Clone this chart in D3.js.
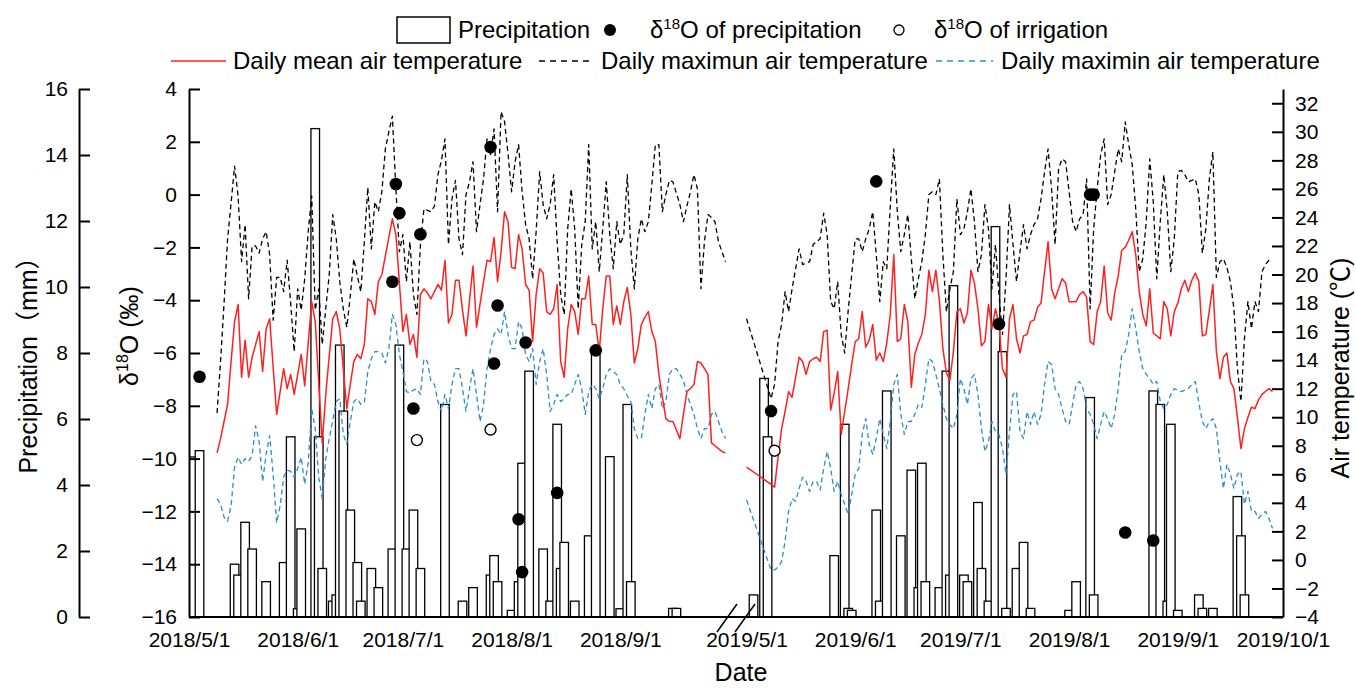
<!DOCTYPE html>
<html>
<head>
<meta charset="utf-8">
<script src="https://cdn.jsdelivr.net/npm/d3@7"></script>
<style>
  body { margin: 0; background: #fff; }
  svg { display: block; }
  text { font-family: "Liberation Sans", Arial, "Noto Sans CJK SC", sans-serif; fill: #000; }
</style>
</head>
<body>
<svg id="chart" width="1356" height="688"></svg>
<script>
// ---------------- data ----------------
const xTickLabels2018 = ["2018/5/1", "2018/6/1", "2018/7/1", "2018/8/1", "2018/9/1"];
const xTickLabels2019 = ["2019/5/1", "2019/6/1", "2019/7/1", "2019/8/1", "2019/9/1", "2019/10/1"];
const precipTicks = [0, 2, 4, 6, 8, 10, 12, 14, 16];
const isotopeTicks = [-16, -14, -12, -10, -8, -6, -4, -2, 0, 2, 4];
const tempTicks = [-4, -2, 0, 2, 4, 6, 8, 10, 12, 14, 16, 18, 20, 22, 24, 26, 28, 30, 32];

// daily precipitation (mm)
const precipDates2018 = ["2018/5/2","2018/5/4","2018/5/14","2018/5/15","2018/5/17","2018/5/19","2018/5/23","2018/5/28","2018/5/30",
  "2018/6/1","2018/6/2","2018/6/6","2018/6/7","2018/6/8","2018/6/11","2018/6/12","2018/6/13","2018/6/14","2018/6/16","2018/6/18","2018/6/19","2018/6/22","2018/6/24","2018/6/28","2018/6/30",
  "2018/7/2","2018/7/4","2018/7/6","2018/7/13","2018/7/18","2018/7/21","2018/7/26","2018/7/27","2018/7/28",
  "2018/8/1","2018/8/3","2018/8/4","2018/8/6","2018/8/10","2018/8/12","2018/8/14","2018/8/15","2018/8/16","2018/8/19","2018/8/23","2018/8/25","2018/8/29",
  "2018/9/1","2018/9/3","2018/9/4","2018/9/16","2018/9/17"];
const precipValues2018 = [4.85,5.04,1.6,1.27,2.87,2.06,1.07,1.65,5.46,
  0.25,2.67,14.8,5.46,1.47,0.48,0.67,8.24,6.24,3.24,1.65,0.48,1.47,0.89,2.06,8.24,
  2.06,3.24,1.47,6.44,0.48,0.89,1.27,1.86,1.07,
  0.2,1.07,4.66,7.45,2.06,0.48,5.84,1.47,2.26,0.48,2.46,8.04,4.86,
  0.25,6.44,1.07,0.26,0.26];
const precipDates2019 = ["2019/5/3","2019/5/6","2019/5/7","2019/5/26","2019/5/29","2019/5/30","2019/5/31",
  "2019/6/7","2019/6/8","2019/6/10","2019/6/14","2019/6/17","2019/6/19","2019/6/20","2019/6/21","2019/6/25","2019/6/27","2019/6/28","2019/6/29",
  "2019/7/2","2019/7/3","2019/7/6","2019/7/7","2019/7/9","2019/7/11","2019/7/13","2019/7/14","2019/7/17","2019/7/19","2019/7/21",
  "2019/8/1","2019/8/3","2019/8/7","2019/8/8","2019/8/25","2019/8/27","2019/8/29","2019/8/30",
  "2019/9/1","2019/9/7","2019/9/8","2019/9/11","2019/9/18","2019/9/19","2019/9/20"];
const precipValues2019 = [0.67,7.23,5.46,1.86,5.84,0.26,0.2,
  3.24,0.48,6.85,2.46,4.45,0.89,4.66,1.07,0.89,7.45,1.27,10.04,
  1.27,1.07,3.47,1.47,0.48,11.83,8.04,0.26,1.47,2.26,0.26,
  0.2,1.07,6.65,0.67,6.85,6.44,0.48,5.84,
  0.2,0.67,0.26,0.26,3.65,2.46,0.67];

// δ18O of precipitation and irrigation water (‰)
const isoPrecipDates = ["2018/5/4","2018/6/28","2018/6/29","2018/6/30","2018/7/4","2018/7/6","2018/7/26","2018/7/27","2018/7/28",
  "2018/8/3","2018/8/4","2018/8/5","2018/8/14","2018/8/25",
  "2019/5/8","2019/6/7","2019/7/12","2019/8/7","2019/8/8","2019/8/17","2019/8/25"];
const isoPrecipValues = [-6.9,-3.3,0.4,-0.7,-8.1,-1.5,1.8,-6.4,-4.2,
  -12.3,-14.3,-5.6,-11.3,-5.9,
  -8.2,0.5,-4.9,0.0,0.0,-12.8,-13.1];
const isoIrrigDates = ["2018/7/5","2018/7/26","2019/5/9"];
const isoIrrigValues = [-9.3,-8.9,-9.7];

// daily air temperature (°C); 2018 series start on 5/9, 2019 series on 5/1 (5/2–5/7 missing)
const tempStart2018 = "2018/5/9";
const meanT2018 = [7.5,8.5,9.7,10.9,13.9,16.7,17.9,12.8,15.4,12.8,
  14.2,15.1,16.0,13.2,16.2,16.9,13.5,10.2,11.8,13.4,
  12.0,13.0,11.6,13.0,14.4,12.2,15.2,18.1,16.7,12.4,
  8.2,11.6,14.3,16.9,17.4,16.2,13.4,10.6,12.3,13.9,
  14.4,14.1,15.1,18.3,18.1,17.2,19.5,20.0,21.3,22.6,
  23.9,22.8,19.4,16.0,17.2,15.1,15.8,14.2,18.6,19.0,
  18.7,18.3,18.8,19.3,18.9,21.0,16.6,17.2,19.6,19.6,
  17.5,15.7,18.2,20.6,16.3,17.9,19.5,21.0,20.9,22.6,
  19.5,21.6,24.4,23.7,20.5,20.4,22.8,21.8,19.3,18.9,
  15.3,18.6,20.4,20.1,17.4,17.2,17.6,19.3,13.9,12.8,
  16.2,17.9,17.4,15.8,18.3,18.3,19.9,16.5,16.5,14.6,
  17.6,19.9,19.9,16.5,17.8,16.5,18.1,19.1,17.2,13.8,
  14.8,16.5,17.0,17.4,16.0,15.3,13.0,11.4,9.9,9.7,
  9.7,9.1,8.5,10.2,11.8,12.0,12.3,13.9,13.8,13.4,
  13.0,8.2,8.0,7.8,7.6,7.5];
const maxT2018 = [10.3,13.9,18.0,22.5,25.0,27.6,25.5,20.9,23.5,18.3,
  22.0,22.0,21.5,22.5,23.0,21.4,16.8,19.8,19.8,18.8,
  21.0,18.0,14.6,19.0,17.5,19.7,23.0,25.5,17.5,19.0,
  15.1,17.6,20.0,24.2,22.5,19.5,17.6,16.3,18.5,21.1,
  19.9,18.8,22.3,26.1,21.8,25.1,24.4,25.8,28.8,30.0,
  31.1,26.0,21.6,22.8,19.5,22.3,18.6,17.2,22.1,24.6,
  24.5,24.4,24.8,27.0,28.0,29.5,22.1,25.3,26.6,22.5,
  21.4,25.6,26.5,27.9,23.0,24.9,26.7,29.5,28.4,30.2,
  24.4,31.4,30.7,28.4,25.8,27.9,29.1,25.8,23.5,22.5,
  19.7,23.0,27.2,24.9,23.9,24.9,27.0,22.3,18.6,17.2,
  23.2,26.0,23.2,17.6,22.1,23.7,29.1,21.8,23.7,20.2,
  23.2,26.5,22.8,20.4,23.7,22.1,22.8,27.0,21.8,19.0,
  22.5,23.9,23.0,23.7,26.3,29.1,29.1,24.4,25.6,26.6,
  26.5,25.7,24.9,23.7,24.8,25.8,27.0,26.0,19.0,22.3,
  24.2,24.0,23.7,22.3,21.6,20.9];
const minT2018 = [4.3,3.9,3.0,2.7,3.8,6.5,7.2,6.7,7.1,6.9,
  7.3,9.4,8.3,5.5,7.4,8.7,6.0,2.6,3.8,5.8,
  6.3,6.2,5.8,6.4,7.2,5.3,6.8,10.6,9.2,5.8,
  4.3,7.1,8.5,9.8,11.1,11.3,8.8,8.1,9.7,11.1,
  11.3,10.9,11.0,13.2,14.1,14.6,14.6,14.5,13.8,14.8,
  17.2,16.5,14.4,13.2,11.8,11.7,11.9,12.0,11.6,14.1,
  13.9,12.5,12.3,11.1,10.4,11.6,10.6,12.3,13.4,13.4,
  12.0,10.4,12.0,13.4,11.6,9.7,10.9,13.4,14.8,15.8,
  16.2,15.8,17.4,15.8,14.8,14.8,16.7,16.2,14.4,13.9,
  14.8,12.3,13.9,14.8,13.0,10.4,10.9,11.6,11.1,11.3,
  11.6,11.6,12.3,13.0,12.0,10.2,11.8,12.3,12.0,11.3,
  12.0,13.0,13.4,13.2,13.0,12.3,12.0,11.5,11.1,9.2,
  8.5,8.5,10.2,11.6,10.6,12.0,12.3,10.6,11.1,13.0,
  13.4,13.4,13.0,12.6,11.6,10.9,10.2,9.2,8.5,9.2,
  9.2,10.2,10.4,9.7,9.0,8.5];

const tempStart2019 = "2019/5/1";
const meanT2019 = [6.5,null,null,null,null,null,null,
  5.3,5.1,7.2,9.2,10.4,11.8,11.4,12.8,14.2,13.9,
  13.0,13.9,14.1,14.2,13.9,16.0,16.1,10.5,11.7,13.2,
  8.8,10.4,12.0,13.7,15.3,15.5,17.4,14.9,15.4,16.5,
  14.0,14.5,13.9,15.2,17.2,21.4,15.3,15.5,17.9,16.7,
  12.1,14.4,15.2,15.8,17.2,20.3,18.8,20.3,18.2,14.8,
  13.1,12.6,14.6,17.4,17.6,16.6,17.3,20.3,19.4,17.6,
  15.0,15.3,17.9,16.2,17.6,16.5,13.4,12.8,16.9,17.9,
  15.5,14.5,15.7,15.8,16.7,16.8,17.7,18.0,20.2,22.3,
  19.0,18.3,19.0,19.7,19.4,18.1,18.1,18.1,18.6,18.8,
  18.4,15.3,15.1,17.4,18.1,20.6,17.3,16.8,18.7,19.9,
  21.7,21.9,22.4,23.0,21.4,18.8,17.2,16.4,19.0,15.9,
  15.7,15.5,18.1,17.6,15.7,17.4,18.0,19.0,19.6,18.8,
  19.6,20.1,19.5,15.7,15.8,17.5,19.3,14.6,12.7,14.2,
  14.5,12.5,12.0,10.0,7.8,9.2,10.0,10.7,10.6,11.2,
  11.6,11.8,12.0,11.8];
const maxT2019 = [16.9,null,null,null,null,null,null,
  11.3,12.3,15.3,16.5,18.8,17.4,19.0,20.4,21.8,20.7,
  20.8,20.9,22.1,22.3,22.5,24.3,22.8,18.1,17.6,19.5,
  15.8,14.5,17.5,20.0,22.5,22.5,21.6,22.5,23.2,24.4,
  21.4,18.1,20.9,20.4,24.8,28.8,24.4,21.6,22.8,24.2,
  21.1,18.3,19.7,20.9,22.8,25.6,25.8,25.6,26.7,21.4,
  17.4,19.0,20.2,25.3,22.8,23.2,24.4,26.0,23.7,20.2,
  21.4,24.9,23.2,19.0,22.1,18.6,15.8,19.7,24.9,22.1,
  19.5,21.6,23.5,21.8,22.8,23.5,23.9,25.3,27.2,28.8,
  26.0,22.1,27.4,28.1,27.9,25.8,23.7,23.0,23.9,24.2,
  26.7,17.6,23.2,26.0,28.4,29.5,24.9,25.6,27.2,28.8,
  27.9,30.7,29.1,27.7,24.6,20.2,21.1,23.7,28.1,25.1,
  19.7,23.7,27.0,24.4,20.2,22.5,27.2,27.3,27.0,26.5,
  26.6,26.7,25.6,21.5,23.2,26.7,28.6,19.8,20.9,21.1,
  20.5,19.5,17.6,13.4,11.1,15.5,18.1,16.2,18.1,17.4,
  20.2,20.7,21.0,21.1];
const minT2019 = [4.2,null,null,null,null,null,null,
  -0.7,-0.7,-0.5,-0.1,1.3,3.4,4.3,4.1,5.0,5.8,
  5.5,4.8,5.5,5.5,4.9,6.4,7.6,6.4,4.8,5.5,
  4.6,3.9,3.2,4.6,6.0,6.4,8.8,9.9,8.1,7.4,
  8.5,9.9,8.8,7.8,9.7,12.3,13.0,10.2,8.8,9.7,
  9.7,10.2,10.9,10.7,12.3,14.1,13.9,13.0,12.0,10.9,
  9.9,9.5,9.2,10.2,12.7,12.0,10.9,12.7,13.0,11.6,
  9.2,7.6,8.3,9.7,9.0,8.8,7.8,6.0,9.0,11.6,
  11.8,9.0,8.5,10.4,9.5,10.4,9.5,10.2,12.3,13.9,
  13.7,12.0,11.6,10.6,9.7,9.5,10.9,12.3,12.5,12.0,
  10.6,10.2,9.5,8.5,9.5,10.4,9.9,9.2,10.2,12.0,
  14.4,14.6,15.8,17.6,16.2,14.6,13.4,13.0,12.7,12.3,
  12.5,11.1,10.6,10.9,11.6,12.0,11.9,11.8,11.9,12.0,
  12.3,12.5,11.0,9.7,9.2,9.7,9.9,9.2,6.9,5.0,
  6.7,6.0,5.0,6.0,6.2,3.9,4.8,3.4,3.4,2.9,
  3.2,3.4,2.9,2.2];

// ---------------- layout ----------------
const LEFT = 189, RIGHT = 1283, TOP = 89, BOTTOM = 617;
const PRECIP_AXIS_X = 79;
const GAP_DAYS = 6;               // width of the axis break between seasons
const RED = "#ff2020", BLUE = "#2b8ccf";
const FONT_TICK = 21, FONT_LABEL = 24, FONT_TITLE = 25;

const parseDate = d3.utcParse("%Y/%m/%d");
const season2018 = [parseDate("2018/5/1"), parseDate("2018/10/1")];
const season2019 = [parseDate("2019/5/1"), parseDate("2019/10/1")];
const days2018 = d3.utcDay.count(season2018[0], season2018[1]);
const days2019 = d3.utcDay.count(season2019[0], season2019[1]);
const dayW = (RIGHT - LEFT) / (days2018 + GAP_DAYS + days2019);

const x2018 = d3.scaleUtc().domain(season2018).range([LEFT, LEFT + days2018 * dayW]);
const x2019 = d3.scaleUtc().domain(season2019).range([RIGHT - days2019 * dayW, RIGHT]);
const xPos = d => (d.getUTCFullYear() === 2018 ? x2018 : x2019)(d);

const yPrecip = d3.scaleLinear().domain([0, 16]).range([BOTTOM, TOP]);
const yIso = d3.scaleLinear().domain([-16, 4]).range([BOTTOM, TOP]);
const yTemp = d3.scaleLinear().domain([-4, 33]).range([BOTTOM, TOP]);

const svg = d3.select("#chart");
svg.append("defs").append("clipPath").attr("id", "plot-clip")
  .append("rect").attr("x", LEFT).attr("y", 0).attr("width", RIGHT - LEFT).attr("height", BOTTOM);

// ---------------- precipitation bars ----------------
const bars = precipDates2018.map((d, i) => ({ date: parseDate(d), v: precipValues2018[i] }))
  .concat(precipDates2019.map((d, i) => ({ date: parseDate(d), v: precipValues2019[i] })));
const barW = 2.45 * dayW;
svg.append("g").attr("clip-path", "url(#plot-clip)")
  .selectAll("rect").data(bars).join("rect")
  .attr("x", d => xPos(d.date) - barW / 2)
  .attr("y", d => yPrecip(d.v))
  .attr("width", barW)
  .attr("height", d => yPrecip(0) - yPrecip(d.v))
  .attr("fill", "#fff")
  .attr("stroke", "#000")
  .attr("stroke-width", 1.3);

// ---------------- temperature lines ----------------
function dailySeries(start, values) {
  const s = parseDate(start);
  return values.map((v, i) => ({ date: d3.utcDay.offset(s, i), v }))
    .filter(d => d.v !== null);
}
const tempLine = d3.line().x(d => xPos(d.date)).y(d => yTemp(d.v));
const tempSeries = [
  { data: dailySeries(tempStart2018, minT2018), color: BLUE, dash: "5,3.5", w: 1.3 },
  { data: dailySeries(tempStart2019, minT2019), color: BLUE, dash: "5,3.5", w: 1.3 },
  { data: dailySeries(tempStart2018, maxT2018), color: "#000", dash: "5,3.5", w: 1.3 },
  { data: dailySeries(tempStart2019, maxT2019), color: "#000", dash: "5,3.5", w: 1.3 },
  { data: dailySeries(tempStart2018, meanT2018), color: RED, dash: null, w: 1.5 },
  { data: dailySeries(tempStart2019, meanT2019), color: RED, dash: null, w: 1.5 }
];
svg.append("g").selectAll("path").data(tempSeries).join("path")
  .attr("d", s => tempLine(s.data))
  .attr("fill", "none")
  .attr("stroke", s => s.color)
  .attr("stroke-width", s => s.w)
  .attr("stroke-dasharray", s => s.dash)
  .attr("stroke-linejoin", "round");

// ---------------- δ18O points ----------------
const isoPrecip = isoPrecipDates.map((d, i) => ({ date: parseDate(d), v: isoPrecipValues[i] }));
const isoIrrig = isoIrrigDates.map((d, i) => ({ date: parseDate(d), v: isoIrrigValues[i] }));
svg.append("g").selectAll("circle").data(isoPrecip).join("circle")
  .attr("cx", d => xPos(d.date)).attr("cy", d => yIso(d.v)).attr("r", 6.3).attr("fill", "#000");
svg.append("g").selectAll("circle").data(isoIrrig).join("circle")
  .attr("cx", d => xPos(d.date)).attr("cy", d => yIso(d.v)).attr("r", 5.5)
  .attr("fill", "#fff").attr("stroke", "#000").attr("stroke-width", 1.4);

// ---------------- axes ----------------
function styleAxis(g) {
  g.attr("font-size", null).attr("font-family", null);
  g.selectAll("path.domain").attr("stroke-width", 2);
  g.selectAll(".tick line").attr("stroke-width", 2);
  g.selectAll("text").style("font-size", FONT_TICK + "px");
}
svg.append("g").attr("transform", `translate(${PRECIP_AXIS_X},0)`)
  .call(d3.axisLeft(yPrecip).tickValues(precipTicks).tickSizeInner(-11).tickSizeOuter(0).tickPadding(11))
  .call(styleAxis);
svg.append("g").attr("transform", `translate(${LEFT},0)`)
  .call(d3.axisLeft(yIso).tickValues(isotopeTicks).tickSizeInner(-11).tickSizeOuter(0).tickPadding(12))
  .call(styleAxis);
svg.append("g").attr("transform", `translate(${RIGHT},0)`)
  .call(d3.axisRight(yTemp).tickValues(tempTicks).tickSizeInner(-11).tickSizeOuter(0).tickPadding(12))
  .call(styleAxis);

// bottom date axis: one continuous base line, labels from both season scales
svg.append("line").attr("x1", LEFT).attr("x2", RIGHT).attr("y1", BOTTOM).attr("y2", BOTTOM)
  .attr("stroke", "#000").attr("stroke-width", 2);
const fmt = d3.utcFormat("%Y/%-m/%-d");
[[x2018, xTickLabels2018], [x2019, xTickLabels2019]].forEach(([scale, labels]) => {
  svg.append("g").attr("transform", `translate(0,${BOTTOM})`)
    .call(d3.axisBottom(scale).tickValues(labels.map(parseDate)).tickFormat(fmt).tickSize(0).tickPadding(15))
    .call(g => g.select("path.domain").remove())
    .call(styleAxis);
});
// break marks between the two seasons
const breakX = (x2018.range()[1] + x2019.range()[0]) / 2;
[-9, 9].forEach(off => {
  svg.append("line")
    .attr("x1", breakX + off - 10).attr("y1", BOTTOM + 15)
    .attr("x2", breakX + off + 10).attr("y2", BOTTOM - 13)
    .attr("stroke", "#000").attr("stroke-width", 1.5);
});

// ---------------- axis titles ----------------
svg.append("text").attr("transform", "translate(37,359) rotate(-90)")
  .attr("text-anchor", "middle").style("font-size", FONT_TITLE + "px")
  .text("Precipitation（mm）");
const isoTitle = svg.append("text").attr("transform", "translate(138,336) rotate(-90)")
  .attr("text-anchor", "middle").style("font-size", FONT_TITLE + "px");
isoTitle.append("tspan").text("δ");
isoTitle.append("tspan").attr("dy", -10).style("font-size", "16px").text("18");
isoTitle.append("tspan").attr("dy", 10).text("O (‰)");
svg.append("text").attr("transform", "translate(1349,368) rotate(-90)")
  .attr("text-anchor", "middle").style("font-size", FONT_TITLE + "px")
  .text("Air temperature (℃)");
svg.append("text").attr("x", 741).attr("y", 681)
  .attr("text-anchor", "middle").style("font-size", FONT_TITLE + "px").text("Date");

// ---------------- legend ----------------
const lg = svg.append("g").style("font-size", FONT_LABEL + "px");
const row1 = 38, row2 = 69;
lg.append("rect").attr("x", 397).attr("y", 17).attr("width", 53).attr("height", 26)
  .attr("fill", "#fff").attr("stroke", "#000").attr("stroke-width", 1.5);
lg.append("text").attr("x", 458).attr("y", row1).text("Precipitation");
lg.append("circle").attr("cx", 610).attr("cy", row1 - 8).attr("r", 6).attr("fill", "#000");
function isoLabel(x, rest) {
  const t = lg.append("text").attr("x", x).attr("y", row1);
  t.append("tspan").text("δ");
  t.append("tspan").attr("dy", -9).style("font-size", "15px").text("18");
  t.append("tspan").attr("dy", 9).text(rest);
}
isoLabel(650, "O of precipitation");
lg.append("circle").attr("cx", 899).attr("cy", row1 - 8).attr("r", 5)
  .attr("fill", "#fff").attr("stroke", "#000").attr("stroke-width", 1.3);
isoLabel(934, "O of irrigation");

const legendLines = [
  { x1: 171, x2: 226, color: RED, dash: null, w: 1.5, label: "Daily mean air temperature", tx: 233 },
  { x1: 539, x2: 594, color: "#000", dash: "6,5", w: 1.3, label: "Daily maximun air temperature", tx: 601 },
  { x1: 936, x2: 993, color: BLUE, dash: "6,5", w: 1.3, label: "Daily maximin air temperature", tx: 1001 }
];
legendLines.forEach(l => {
  lg.append("line").attr("x1", l.x1).attr("x2", l.x2).attr("y1", row2 - 8).attr("y2", row2 - 8)
    .attr("stroke", l.color).attr("stroke-width", l.w).attr("stroke-dasharray", l.dash);
  lg.append("text").attr("x", l.tx).attr("y", row2).text(l.label);
});
</script>
</body>
</html>
